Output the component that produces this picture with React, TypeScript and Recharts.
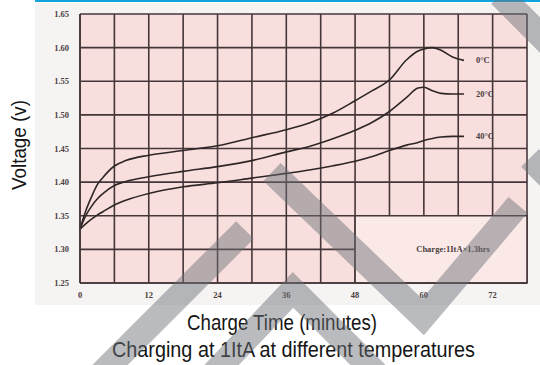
import React from "react";
import {
  LineChart,
  Line,
  XAxis,
  YAxis,
  CartesianGrid,
  ReferenceArea,
} from "recharts";

// Charge time in minutes for each sampled point
const minutes = [0, 1, 2, 3, 4, 6, 8, 12, 18, 24, 30, 36, 40, 44, 48, 51, 54, 57, 59, 60, 61.5, 63, 65, 67];

// Cell voltage per temperature (V)
const volts0C = [1.33, 1.357, 1.378, 1.396, 1.407, 1.424, 1.432, 1.44, 1.447, 1.454, 1.466, 1.478, 1.488, 1.502, 1.521, 1.536, 1.552, 1.582, 1.595, 1.598, 1.6, 1.596, 1.586, 1.581];
const volts20C = [1.33, 1.35, 1.364, 1.375, 1.383, 1.395, 1.401, 1.408, 1.416, 1.423, 1.432, 1.445, 1.453, 1.464, 1.477, 1.489, 1.505, 1.526, 1.54, 1.541, 1.536, 1.532, 1.531, 1.531];
const volts40C = [1.33, 1.338, 1.345, 1.351, 1.356, 1.366, 1.373, 1.383, 1.393, 1.399, 1.406, 1.413, 1.418, 1.424, 1.431, 1.438, 1.447, 1.455, 1.459, 1.462, 1.465, 1.467, 1.468, 1.468];

const seriesNames = ["0°C", "20°C", "40°C"];

// Grid every 6 minutes, labels every 12
const gridMinutes = [0, 6, 12, 18, 24, 30, 36, 42, 48, 54, 60, 66, 72, 78];
const minuteLabels = [0, 12, 24, 36, 48, 60, 72];
const voltTicks = [1.25, 1.3, 1.35, 1.4, 1.45, 1.5, 1.55, 1.6, 1.65];

const rows = minutes.map((t, i) => ({
  t,
  v0: volts0C[i],
  v20: volts20C[i],
  v40: volts40C[i],
}));

const GRID = "#45363a";
const CURVE = "#2e2626";
const SCAN_FONT = "'Liberation Serif', 'DejaVu Serif', serif";
const TITLE_FONT = "'Liberation Sans Narrow', 'Liberation Sans', Arial, sans-serif";

// Temperature tag drawn after the last point of each curve
const endLabel = (name: string) => (props: any) => {
  if (props.index !== rows.length - 1) return null;
  return (
    <text
      x={props.x + 12}
      y={props.y + 3}
      fontFamily={SCAN_FONT}
      fontSize={8.5}
      fontWeight="bold"
      fill="#4a4040"
    >
      {name}
    </text>
  );
};

const XTitles = () => (
  <g fill="#151515" fontFamily={TITLE_FONT} fontSize={22}>
    <text x={282} y={330} textAnchor="middle" textLength={190} lengthAdjust="spacingAndGlyphs">
      Charge Time (minutes)
    </text>
    <text x={293.5} y={357} textAnchor="middle" textLength={363} lengthAdjust="spacingAndGlyphs">
      Charging at 1ItA at different temperatures
    </text>
  </g>
);

const YTitle = () => (
  <text
    x={25.5}
    y={145}
    transform="rotate(-90 25.5 145)"
    textAnchor="middle"
    fill="#151515"
    fontFamily={TITLE_FONT}
    fontSize={21}
    textLength={90}
    lengthAdjust="spacingAndGlyphs"
  >
    Voltage (v)
  </text>
);

// Diagonal watermark bands across the page
const bands = [
  "245,230 100,375",
  "212,375 293,290 378,375",
  "272,172 423,317 518,205",
  "530,158 565,193",
  "500,-5 550,45",
];

export default function App() {
  const tickStyle = {
    fontFamily: SCAN_FONT,
    fontSize: 8.5,
    fontWeight: "bold" as const,
    fill: "#4a4040",
  };

  return (
    <div style={{ position: "absolute", left: 0, top: 0, width: 540, height: 365, background: "#fff" }}>
      <div style={{ position: "absolute", left: 35, top: 0, width: 505, height: 2, background: "#12a2de" }} />
      <div style={{ position: "absolute", left: 35, top: 3, width: 505, height: 302, background: "#f6f3f3" }} />
      <div style={{ position: "absolute", left: 0, top: 0 }}>
        <LineChart
          width={540}
          height={365}
          data={rows}
          margin={{ top: 14, right: 13, bottom: 52, left: 0 }}
        >
          <CartesianGrid fill="#f8dfdd" fillOpacity={1} stroke={GRID} strokeWidth={1.6} />
          <XAxis
            dataKey="t"
            type="number"
            domain={[0, 78]}
            ticks={gridMinutes}
            interval={0}
            tickFormatter={(v: number) => (minuteLabels.includes(v) ? String(v) : "")}
            axisLine={{ stroke: GRID, strokeWidth: 1.6 }}
            tickLine={false}
            tickSize={0}
            tickMargin={9}
            tick={tickStyle}
            height={30}
            label={{ content: () => <XTitles /> }}
          />
          <YAxis
            type="number"
            domain={[1.25, 1.65]}
            ticks={voltTicks}
            interval={0}
            tickFormatter={(v: number) => v.toFixed(2)}
            axisLine={{ stroke: GRID, strokeWidth: 1.6 }}
            tickLine={false}
            tickSize={0}
            tickMargin={11}
            tick={tickStyle}
            width={80}
            label={{ content: () => <YTitle /> }}
          />
          <ReferenceArea
            x1={48}
            x2={78}
            y1={1.25}
            y2={1.35}
            fill="#fbe9e7"
            fillOpacity={1}
            stroke={GRID}
            strokeWidth={1.6}
            ifOverflow="visible"
            label={{
              value: "Charge:1ItA×1.3hrs",
              position: "center",
              fontFamily: SCAN_FONT,
              fontSize: 8.5,
              fontWeight: "bold",
              fill: "#4a4040",
              dx: 12,
            }}
          />
          <Line type="monotone" dataKey="v0" stroke={CURVE} strokeWidth={1.6} dot={false} isAnimationActive={false} label={endLabel(seriesNames[0])} />
          <Line type="monotone" dataKey="v20" stroke={CURVE} strokeWidth={1.6} dot={false} isAnimationActive={false} label={endLabel(seriesNames[1])} />
          <Line type="monotone" dataKey="v40" stroke={CURVE} strokeWidth={1.6} dot={false} isAnimationActive={false} label={endLabel(seriesNames[2])} />
        </LineChart>
      </div>
      <svg
        width={540}
        height={365}
        style={{ position: "absolute", left: 0, top: 0, pointerEvents: "none" }}
      >
        <g fill="none" stroke="#6c7077" strokeOpacity={0.48} strokeWidth={25} strokeLinejoin="miter" strokeLinecap="butt">
          {bands.map((pts) => (
            <polyline key={pts} points={pts} />
          ))}
        </g>
      </svg>
    </div>
  );
}
